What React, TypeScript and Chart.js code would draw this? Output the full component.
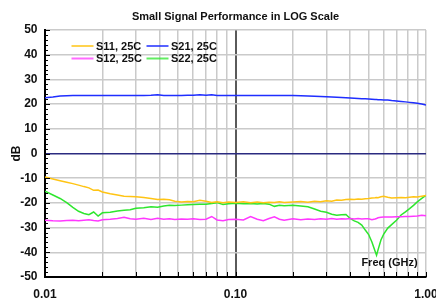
import React, { useEffect, useRef } from "react";
import { Chart, registerables } from "chart.js";

Chart.register(...registerables);

const FONT = '"Liberation Sans", Arial, Helvetica, sans-serif';

const TITLE = "Small Signal Performance in LOG Scale";
const X_LABEL = "Freq (GHz)";
const Y_LABEL = "dB";

const freq = [
  0.010, 0.011, 0.012, 0.013, 0.014, 0.015, 0.016, 0.017, 0.018, 0.019, 0.020,
  0.022, 0.024, 0.026, 0.028, 0.030, 0.033, 0.036, 0.039, 0.042, 0.045, 0.048,
  0.052, 0.056, 0.060, 0.065, 0.070, 0.075, 0.080, 0.086, 0.092, 0.100,
  0.110, 0.120, 0.130, 0.140, 0.150, 0.160, 0.170, 0.180,
  0.200, 0.220, 0.240, 0.260, 0.280, 0.300, 0.320, 0.340, 0.360, 0.380, 0.400,
  0.420, 0.440, 0.460, 0.480, 0.500, 0.520, 0.540, 0.550, 0.560, 0.580, 0.600,
  0.630, 0.660, 0.700, 0.740, 0.780, 0.820, 0.860, 0.900, 0.950, 1.000,
];

const s11 = [
  -9.5, -10.3, -11.0, -11.6, -12.2, -12.8, -13.4, -13.9, -14.9, -14.8, -15.6,
  -16.3, -16.8, -17.3, -17.4, -17.5, -17.8, -18.2, -18.6, -18.5, -18.7, -19.3,
  -19.6, -19.4, -19.5, -18.9, -19.3, -19.8, -19.5, -19.9, -19.6, -19.8,
  -19.5, -19.9, -19.6, -19.9, -19.7, -19.8, -19.5, -19.8,
  -19.6, -19.4, -19.7, -19.3, -19.5, -19.1, -19.3, -18.8, -18.9, -18.6, -18.5,
  -18.6, -18.4, -18.5, -18.3, -18.2, -18.0, -17.9, -17.8, -17.9, -17.5, -17.3,
  -17.7, -18.0, -17.9, -17.8, -17.9, -17.7, -17.5, -17.6, -17.3, -17.0,
];

const s21 = [
  22.6, 22.9, 23.3, 23.4, 23.5, 23.5, 23.5, 23.5, 23.5, 23.5, 23.5,
  23.5, 23.5, 23.5, 23.5, 23.5, 23.5, 23.6, 23.8, 23.5, 23.5, 23.5,
  23.5, 23.6, 23.6, 23.8, 23.6, 23.8, 23.5, 23.5, 23.5, 23.5,
  23.5, 23.5, 23.5, 23.5, 23.5, 23.5, 23.5, 23.5,
  23.5, 23.4, 23.3, 23.2, 23.1, 23.0, 22.9, 22.8, 22.7, 22.6, 22.5,
  22.4, 22.3, 22.2, 22.2, 22.1, 22.0, 21.9, 21.9, 21.8, 21.8, 21.7,
  21.7, 21.5, 21.3, 21.1, 20.9, 20.7, 20.5, 20.3, 20.0, 19.6,
];

const s12 = [
  -27.0, -27.2, -27.3, -27.1, -27.0, -27.2, -27.0, -26.8, -27.1, -27.3, -26.8,
  -26.6, -26.3, -25.8, -26.4, -26.6, -26.2, -26.7, -26.2, -26.6, -26.4, -26.7,
  -26.5, -26.6, -26.4, -26.7, -26.6, -25.5, -26.9, -27.2, -26.7, -26.6,
  -26.9, -25.5, -26.6, -27.2, -26.3, -25.6, -26.6, -27.0,
  -26.4, -26.8, -26.5, -26.7, -26.4, -26.6, -26.3, -26.6, -26.4, -26.5, -26.3,
  -26.5, -26.3, -26.5, -26.4, -26.4, -26.8, -26.5, -26.3, -26.0, -25.8, -25.7,
  -25.7, -25.7, -25.6, -25.6, -25.5, -25.5, -25.4, -25.3, -25.0, -25.2,
];

const s22 = [
  -15.3, -16.8, -18.2, -19.9, -21.8, -23.4, -24.3, -24.8, -23.7, -25.3, -24.0,
  -23.8, -23.3, -23.0, -22.8, -22.2, -22.0, -21.6, -21.8, -21.3, -21.0, -21.1,
  -20.9, -20.7, -20.6, -20.5, -20.5, -20.2, -19.9, -20.6, -20.3, -20.1,
  -20.3, -20.2, -20.4, -20.2, -20.5, -21.4, -21.0, -21.2,
  -21.0, -21.3, -21.6, -22.5, -23.4, -23.8, -24.6, -25.0, -24.8, -24.7, -26.3,
  -27.3, -27.9, -29.0, -31.0, -32.8, -35.8, -39.5, -41.2, -39.0, -35.0, -32.6,
  -30.2, -28.8, -27.0, -24.9, -23.6, -22.3, -21.0, -19.6, -18.2, -16.9,
];

const seriesLabels = ["S11, 25C", "S21, 25C", "S12, 25C", "S22, 25C"];
const seriesValues = [s11, s21, s12, s22];
const seriesColors = ["#ffc414", "#1f2eff", "#ff38ff", "#2ee62e"];

const xGridTicks = [
  0.01, 0.02, 0.03, 0.04, 0.05, 0.06, 0.07, 0.08, 0.09,
  0.1, 0.2, 0.3, 0.4, 0.5, 0.6, 0.7, 0.8, 0.9, 1.0,
];
const xLabelTicks = [0.01, 0.1, 1.0];

const Y_MIN = -50;
const Y_MAX = 50;
const Y_STEP = 10;
const Y_MINOR_STEP = 2;

const overlayPlugin = {
  id: "overlay",
  afterDraw(chart: any) {
    const { ctx, chartArea, scales } = chart;
    const { left, right, top, bottom } = chartArea;
    ctx.save();
    ctx.strokeStyle = "#000";
    ctx.lineWidth = 1;
    for (let v = Y_MIN; v <= Y_MAX; v += Y_MINOR_STEP) {
      const y = Math.round(scales.y.getPixelForValue(v)) + 0.5;
      const len = v % Y_STEP === 0 ? 5 : 3;
      ctx.beginPath();
      ctx.moveTo(left, y);
      ctx.lineTo(left + len, y);
      ctx.stroke();
    }
    for (const v of xGridTicks) {
      const x = Math.round(scales.x.getPixelForValue(v)) + 0.5;
      ctx.beginPath();
      ctx.moveTo(x, bottom);
      ctx.lineTo(x, bottom - 5);
      ctx.stroke();
    }
    // legend inside the plot
    ctx.font = `bold 11px ${FONT}`;
    ctx.textBaseline = "middle";
    ctx.textAlign = "left";
    chart.data.datasets.forEach((ds: any, i: number) => {
      const col = i % 2;
      const row = Math.floor(i / 2);
      const lx = left + 26.5 + col * 75;
      const ly = top + 16 + row * 12.5;
      ctx.strokeStyle = ds.borderColor;
      ctx.globalAlpha = 0.75;
      ctx.lineWidth = 2;
      ctx.beginPath();
      ctx.moveTo(lx, ly);
      ctx.lineTo(lx + 22, ly);
      ctx.stroke();
      ctx.globalAlpha = 1;
      ctx.fillStyle = "#111";
      ctx.fillText(ds.label, lx + 24.5, ly + 0.5);
    });
    ctx.font = `bold 11px ${FONT}`;
    ctx.textAlign = "center";
    ctx.fillStyle = "#111";
    ctx.fillText(X_LABEL, right - 36.5, bottom - 14);
    ctx.restore();
  },
};

export default function App() {
  const canvasRef = useRef<HTMLCanvasElement | null>(null);

  useEffect(() => {
    const canvas = canvasRef.current;
    if (!canvas) return;
    const datasets = seriesLabels.map((label, i) => ({
      label,
      data: freq.map((f, j) => ({ x: f, y: seriesValues[i][j] })),
      borderColor: seriesColors[i],
      backgroundColor: seriesColors[i],
      borderWidth: 1.5,
      pointRadius: 0,
      tension: 0,
      fill: false,
    }));
    const chart = new Chart(canvas, {
      type: "line",
      data: { datasets },
      plugins: [overlayPlugin],
      options: {
        animation: false,
        responsive: false,
        devicePixelRatio: 1,
        layout: { padding: { left: 0, right: 10, top: 0, bottom: 0 } },
        plugins: {
          legend: { display: false },
          tooltip: { enabled: false },
          title: {
            display: true,
            text: TITLE,
            fullSize: false,
            color: "#111",
            font: { family: FONT, size: 11, weight: "bold" },
            padding: { top: 10, bottom: 6.8 },
          },
        },
        scales: {
          x: {
            type: "logarithmic",
            min: 0.01,
            max: 1,
            afterBuildTicks: (axis: any) => {
              axis.ticks = xGridTicks.map((v) => ({ value: v }));
            },
            afterFit: (scale: any) => {
              scale.height = 24;
              scale.paddingRight = 0;
              scale.paddingLeft = 0;
            },
            ticks: {
              autoSkip: false,
              maxRotation: 0,
              minRotation: 0,
              padding: 10,
              color: "#111",
              font: { family: FONT, size: 12, weight: "bold" },
              callback: (value: any) => {
                const v = Number(value);
                return xLabelTicks.some((t) => Math.abs(t - v) < 1e-9) ? v.toFixed(2) : "";
              },
            },
            grid: {
              drawTicks: false,
              color: (ctx: any) => {
                const v = ctx.tick ? ctx.tick.value : 0;
                return Math.abs(v - 0.1) < 1e-9 ? "#5a5a5a" : "#cacaca";
              },
              lineWidth: (ctx: any) => {
                const v = ctx.tick ? ctx.tick.value : 0;
                return Math.abs(v - 0.1) < 1e-9 ? 2 : 1.5;
              },
            },
            border: { display: true, color: "#000", width: 2 },
          },
          y: {
            type: "linear",
            min: Y_MIN,
            max: Y_MAX,
            afterFit: (scale: any) => {
              scale.width = 45;
            },
            ticks: {
              stepSize: Y_STEP,
              padding: 7.5,
              color: "#111",
              font: { family: FONT, size: 12, weight: "bold" },
            },
            title: {
              display: true,
              text: Y_LABEL,
              color: "#111",
              font: { family: FONT, size: 12, weight: "bold" },
              padding: { top: 9.5, bottom: 0 },
            },
            grid: {
              drawTicks: false,
              color: (ctx: any) => {
                const v = ctx.tick ? ctx.tick.value : 1;
                return v === 0 ? "#2b2b80" : "#cacaca";
              },
              lineWidth: 1.5,
            },
            border: { display: true, color: "#000", width: 2 },
          },
        },
      },
    } as any);
    return () => chart.destroy();
  }, []);

  return (
    <div style={{ position: "fixed", left: 0, top: 0, width: 436, height: 301, background: "#fff" }}>
      <canvas ref={canvasRef} width={436} height={301} style={{ width: 436, height: 301, display: "block" }} />
    </div>
  );
}
